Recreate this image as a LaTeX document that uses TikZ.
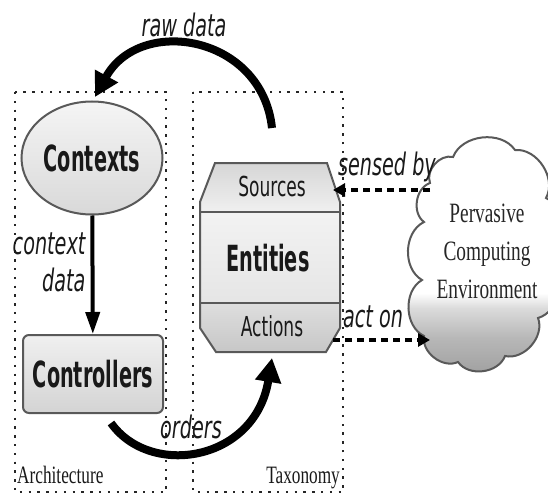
\documentclass[tikz,border=0pt]{standalone}
\usepackage{fontspec}
\setmainfont[FakeStretch=0.69]{Liberation Serif}
\setsansfont[FakeStretch=0.62]{DejaVu Sans}
\newfontfamily\boldsans[FakeStretch=0.535]{DejaVu Sans}
\usetikzlibrary{shapes.geometric,arrows.meta}

% cloud: white on top, fading into grey towards the bottom
% (the path's box maps onto 25bp..75bp of the shading)
\pgfdeclareverticalshading{cloudshade}{100bp}{%
  color(0bp)=(black!38); color(25bp)=(black!38); color(33bp)=(black!28);
  color(39bp)=(black!14); color(42bp)=(white); color(100bp)=(white)}

\begin{document}
\begin{tikzpicture}[x=1pt,y=-1pt,
  frame/.style={draw=black!85, line width=2.6pt, dash pattern=on 2.4pt off 6.4pt},
  boldlbl/.style={font=\boldsans\bfseries\fontsize{36}{40}\selectfont, text=black!90},
  seclbl/.style={font=\sffamily\fontsize{27.5}{32}\selectfont, text=black!90},
  edgelbl/.style={font=\sffamily\itshape\fontsize{31}{37}\selectfont, text=black!90},
  framelbl/.style={font=\rmfamily\fontsize{25}{28}\selectfont, text=black!90},
  outline/.style={draw=black!65, line width=2pt},
  puff/.style={bend left=62},
  bigarrow/.style={line width=8pt, -{Triangle[length=24pt,width=25pt]}},
  dasharrow/.style={line width=3.4pt, dash pattern=on 7pt off 5pt, -{Triangle[length=12pt,width=13pt]}}
]
\useasboundingbox (0,0) rectangle (548,500);

% the two dotted frames
\draw[frame] (15,92) rectangle (166,492);
\draw[frame] (193,92) rectangle (343,492);
\node[framelbl, anchor=base west, inner sep=0pt] (arch) at (17,483) {Architecture};
\node[framelbl, anchor=base east, inner sep=0pt] (tax) at (340,483) {Taxonomy};

% architecture side
\node[ellipse, outline, top color=black!4, bottom color=black!15,
      minimum width=141pt, minimum height=113pt, inner sep=0pt, boldlbl] (contexts) at (92,158) {Contexts};
\node[rectangle, rounded corners=6pt, outline, top color=black!6, bottom color=black!17,
      minimum width=140pt, minimum height=78pt, inner sep=0pt, boldlbl] (controllers) at (93,374) {Controllers};
\draw[line width=4pt, -{Triangle[length=22pt,width=14pt]}] (contexts) -- (controllers);
\node[edgelbl, align=right, anchor=east] (ctxlbl) at (89,262) {context\\data};

% taxonomy side: chamfered entity block with three bands
\begin{scope}
  \clip (215,163) -- (327,163) -- (340,202) -- (340,328) -- (326,352)
        -- (216,352) -- (200,328) -- (200,202) -- cycle;
  \shade[top color=black!16, bottom color=black!6] (200,163) rectangle (340,212);
  \shade[top color=black!5, bottom color=black!10] (200,212) rectangle (340,303);
  \shade[top color=black!13, bottom color=black!22] (200,303) rectangle (340,352);
\end{scope}
\draw[outline] (215,163) -- (327,163) -- (340,202) -- (340,328) -- (326,352)
      -- (216,352) -- (200,328) -- (200,202) -- cycle;
\draw[outline] (200,212) -- (340,212);
\draw[outline] (200,303) -- (340,303);
\node[seclbl] (sources) at (272,186) {Sources};
\node[boldlbl] (entities) at (268,258) {Entities};
\node[seclbl] (actions) at (272,326) {Actions};

% environment: a cloud built from round puffs
\draw[outline, shading=cloudshade]
  (430,183) to[puff] (453,157) to[puff] (515,150) to[puff] (546,198)
  to[puff] (550,262) to[puff] (538,318) to[puff] (505,356)
  to[puff] (458,362) to[puff] (424,336) to[puff] (422,280)
  to[puff] (424,222) to[puff] (430,183) -- cycle;
\node[font=\rmfamily\fontsize{28}{38}\selectfont, text=black!85, align=center]
      (envtxt) at (487,251) {Pervasive\\Computing\\Environment};

% connectors
\coordinate (rawstart) at (272,128);
\coordinate (rawend) at (95,97);
\draw[bigarrow] (rawstart) .. controls (262,35) and (140,15) .. (rawend);
\node[edgelbl] (rawlbl) at (184,25) {raw data};

\coordinate (ordstart) at (111,423);
\coordinate (ordend) at (272,358);
\draw[bigarrow] (ordstart) .. controls (150,478) and (255,462) .. (ordend);
\node[edgelbl] (ordlbl) at (191,427) {orders};

\coordinate (sensefrom) at (430,190);
\coordinate (senseto) at (333,190);
\draw[dasharrow] (sensefrom) -- (senseto);
\node[edgelbl] (senselbl) at (387,167) {sensed by};

\coordinate (actfrom) at (333,340);
\coordinate (actto) at (430,340);
\draw[dasharrow] (actfrom) -- (actto);
\node[edgelbl] (actlbl) at (373,317) {act on};
\end{tikzpicture}
\end{document}
